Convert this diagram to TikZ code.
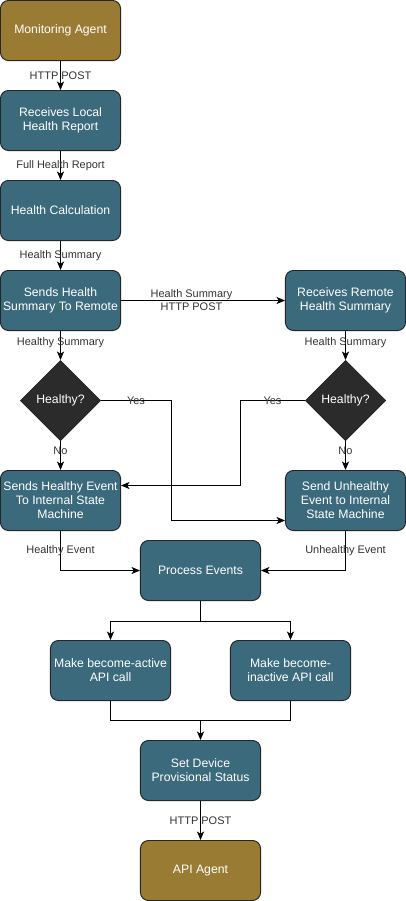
\documentclass[tikz,border=0pt]{standalone}
\usepackage{fontspec}
\setmainfont{Liberation Sans}
\usetikzlibrary{shapes.geometric,calc,arrows.meta}
\definecolor{agentgold}{HTML}{9A7B33}
\definecolor{stepteal}{HTML}{3B6A7C}
\definecolor{decidegray}{HTML}{2B2B2B}
\definecolor{labelgray}{HTML}{333333}
\begin{document}
\begin{tikzpicture}[>={Stealth[length=6pt,width=5pt,inset=1.5pt]},x=0.025cm,y=-0.025cm,
    box/.style={draw=black!85,line width=0.7pt,rounded corners=0.2cm,minimum width=3cm,minimum height=1.5cm,
        inner sep=1pt,align=center,text=white,font=\fontsize{8.7pt}{10pt}\selectfont},
    agent/.style={box,fill=agentgold},
    stepbox/.style={box,fill=stepteal},
    decide/.style={diamond,draw=black!85,line width=0.7pt,fill=decidegray,aspect=1,minimum width=2cm,minimum height=2cm,
        inner sep=0pt,text=white,font=\fontsize{8.7pt}{10pt}\selectfont},
    lbl/.style={text=labelgray,align=center,font=\fontsize{7.8pt}{9.2pt}\selectfont,inner sep=1pt},
    every path/.style={line width=0.7pt}]
    \useasboundingbox (0,0) rectangle (406,901);
    \node[agent] (mon) at (60.5,30.5) {Monitoring Agent};
    \node[stepbox] (local) at (60.5,120.5) {Receives Local\\Health Report};
    \node[stepbox] (calc) at (60.5,210.5) {Health Calculation};
    \node[stepbox] (send) at (60.5,300.5) {Sends Health\\Summary To Remote};
    \node[stepbox] (remote) at (345.5,300.5) {Receives Remote\\Health Summary};
    \node[decide] (okl) at (60.5,400.5) {Healthy?};
    \node[decide] (okr) at (345.5,400.5) {Healthy?};
    \node[stepbox] (goodev) at (60.5,500.5) {Sends Healthy Event\\To Internal State\\Machine};
    \node[stepbox] (badev) at (345.5,500.5) {Send Unhealthy\\Event to Internal\\State Machine};
    \node[stepbox] (proc) at (200.5,570.5) {Process Events};
    \node[stepbox] (active) at (110.5,670.5) {Make become-active\\API call};
    \node[stepbox] (inactive) at (290.5,670.5) {Make become-\\inactive API call};
    \node[stepbox] (status) at (200.5,770.5) {Set Device\\Provisional Status};
    \node[agent] (api) at (200.5,870.5) {API Agent};
    \coordinate (split) at ($(proc.south)+(0,20)$);
    \coordinate (join) at ($(status.north)+(0,-20)$);
    \draw[->] (mon)--node[lbl]{HTTP POST}(local);
    \draw[->] (local)--node[lbl]{Full Health Report}(calc);
    \draw[->] (calc)--node[lbl]{Health Summary}(send);
    \draw[->] (send)--node[lbl,pos=0.43]{Health Summary\\HTTP POST}(remote);
    \draw[->] (send)--node[lbl,pos=0.4]{Healthy Summary}(okl);
    \draw[->] (remote)--node[lbl,pos=0.4]{Health Summary}(okr);
    \draw[->] (okl)--node[lbl,pos=0.35]{No}(goodev);
    \draw[->] (okr)--node[lbl,pos=0.35]{No}(badev);
    \draw[->] (okl.east)--node[lbl]{Yes}++(70,0)|-($(badev.west)+(0,20)$);
    \draw[->] (okr.west)--node[lbl]{Yes}++(-65,0)|-($(goodev.east)+(0,-15)$);
    \draw[->] (goodev.south)|-node[lbl,pos=0.25]{Healthy Event}(proc.west);
    \draw[->] (badev.south)|-node[lbl,pos=0.25]{Unhealthy Event}(proc.east);
    \draw (proc.south)--(split);
    \draw[->] (split)-|(active.north);
    \draw[->] (split)-|(inactive.north);
    \draw (active.south)|-(join);
    \draw (inactive.south)|-(join);
    \draw[->] (join)--(status.north);
    \draw[->] (status)--node[lbl]{HTTP POST}(api);
\end{tikzpicture}
\end{document}
